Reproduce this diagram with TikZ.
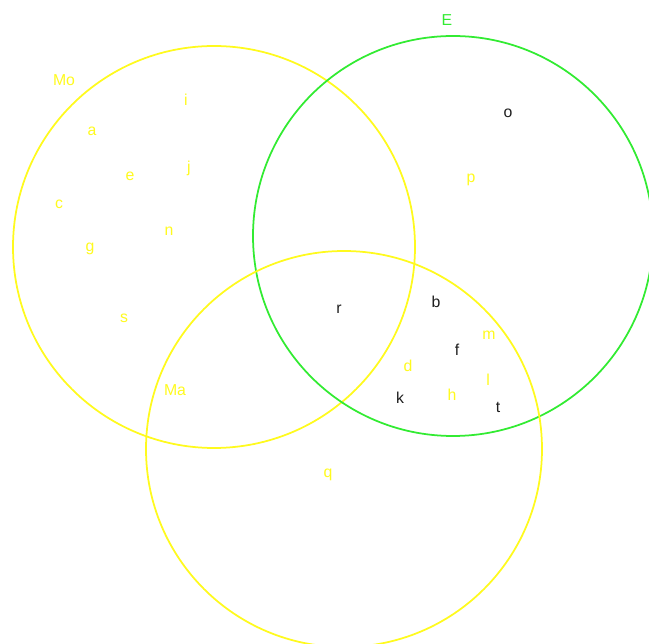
\documentclass[tikz,border=0pt]{standalone}
\usepackage{fontspec}
\setmainfont{Liberation Sans}
\definecolor{setyellow}{RGB}{255,250,30}
\definecolor{setgreen}{RGB}{50,235,50}
\definecolor{itemgray}{RGB}{30,30,30}

\begin{document}
\begin{tikzpicture}[
x=0.02cm,y=-0.02cm,
every node/.style={font=\fontsize{9}{11}\selectfont,inner sep=0pt},
ring/.style={draw,circle,line width=1pt},
ylab/.style={text=setyellow},
glab/.style={text=setgreen},
blab/.style={text=itemgray}]

\useasboundingbox (0,0) rectangle (649,644);

\node (mo) [ring,setyellow,minimum size=402*0.02cm] at (214,247) {};

\node (e) [ring,setgreen,minimum size=400*0.02cm] at (453,236) {};

\node (ma) [ring,setyellow,minimum size=396*0.02cm] at (344,449) {};

\node (molab) [ylab] at (64,80) {Mo};
\node (elab) [glab] at (447,20) {E};
\node (malab) [ylab] at (175,390) {Ma};

\node (a) [ylab] at (92,131) {a};
\node (c) [ylab] at (59,204) {c};
\node (ee) [ylab] at (130,176) {e};
\node (g) [ylab] at (90,249) {g};
\node (i) [ylab] at (186,100) {i};
\node (j) [ylab] at (189,168) {j};
\node (n) [ylab] at (169,231) {n};
\node (s) [ylab] at (124,318) {s};

\node (o) [blab] at (508,113) {o};
\node (p) [ylab] at (471,180) {p};

\node (r) [blab] at (339,309) {r};
\node (b) [blab] at (436,302) {b};
\node (f) [blab] at (457,350) {f};
\node (k) [blab] at (400,398) {k};
\node (t) [blab] at (498,407) {t};
\node (m) [ylab] at (489,335) {m};
\node (d) [ylab] at (408,366) {d};
\node (l) [ylab] at (488,380) {l};
\node (h) [ylab] at (452,395) {h};

\node (q) [ylab] at (328,475) {q};

\end{tikzpicture}
\end{document}
